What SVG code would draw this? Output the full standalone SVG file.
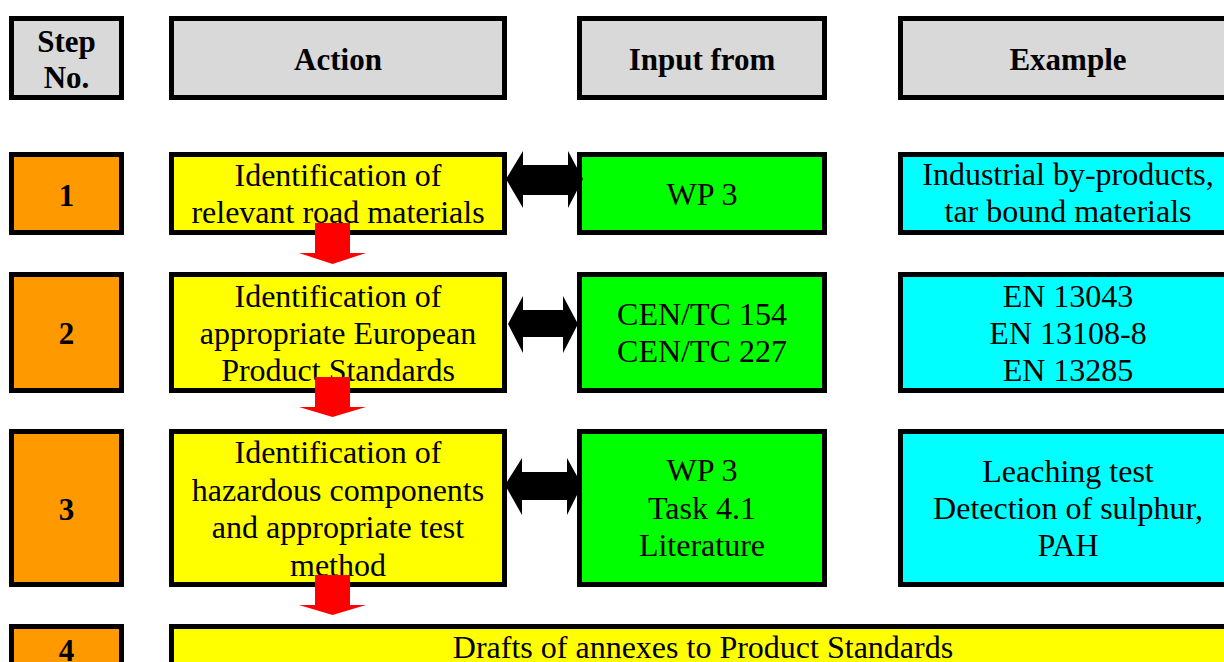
<svg xmlns="http://www.w3.org/2000/svg" width="1224" height="662" viewBox="0 0 1224 662">
<style>
.box{stroke:#000;stroke-width:5;stroke-linejoin:miter}
.hd{fill:#D9D9D9}
.st{fill:#FF9900}
.ac{fill:#FFFF00}
.in{fill:#00FF00}
.ex{fill:#00FFFF}
text{font-family:"Liberation Serif","Times New Roman",serif;font-size:32px;fill:#000;text-anchor:middle}
.b{font-weight:bold;font-size:31px}
.red{fill:#FF0000}
.blk{fill:#000}
</style>
<rect width="1224" height="662" fill="#fff"/>
<g id="header">
<g id="h-step"><rect class="box hd" x="11.5" y="18.5" width="110" height="79"/><text class="b" x="66.5" y="52">Step</text><text class="b" x="66.5" y="88">No.</text></g>
<g id="h-action"><rect class="box hd" x="171.5" y="18.5" width="333" height="79"/><text class="b" x="338" y="70">Action</text></g>
<g id="h-input"><rect class="box hd" x="579.5" y="18.5" width="245" height="79"/><text class="b" x="702" y="70">Input from</text></g>
<g id="h-example"><rect class="box hd" x="900.5" y="18.5" width="340" height="79"/><text class="b" x="1068" y="70">Example</text></g>
</g>
<g id="row1">
<g id="step1"><rect class="box st" x="11.5" y="154.5" width="110" height="78"/><text class="b" x="66.5" y="206">1</text></g>
<g id="action1"><rect class="box ac" x="171.5" y="154.5" width="333" height="78"/><text x="338" y="186">Identification of</text><text x="338" y="223">relevant road materials</text></g>
<g id="input1"><rect class="box in" x="579.5" y="154.5" width="245" height="78"/><text x="702" y="205">WP 3</text></g>
<g id="example1"><rect class="box ex" x="900.5" y="154.5" width="340" height="78"/><text x="1068" y="185">Industrial by-products,</text><text x="1068" y="222">tar bound materials</text></g>
</g>
<g id="row2">
<g id="step2"><rect class="box st" x="11.5" y="274.5" width="110" height="116"/><text class="b" x="66.5" y="344">2</text></g>
<g id="action2"><rect class="box ac" x="171.5" y="274.5" width="333" height="116"/><text x="338" y="307">Identification of</text><text x="338" y="344">appropriate European</text><text x="338" y="381">Product Standards</text></g>
<g id="input2"><rect class="box in" x="579.5" y="274.5" width="245" height="116"/><text x="702" y="325">CEN/TC 154</text><text x="702" y="362">CEN/TC 227</text></g>
<g id="example2"><rect class="box ex" x="900.5" y="274.5" width="340" height="116"/><text x="1068" y="307">EN 13043</text><text x="1068" y="344">EN 13108-8</text><text x="1068" y="381">EN 13285</text></g>
</g>
<g id="row3">
<g id="step3"><rect class="box st" x="11.5" y="431.5" width="110" height="153"/><text class="b" x="66.5" y="520">3</text></g>
<g id="action3"><rect class="box ac" x="171.5" y="431.5" width="333" height="153"/><text x="338" y="463">Identification of</text><text x="338" y="501">hazardous components</text><text x="338" y="538">and appropriate test</text><text x="338" y="576">method</text></g>
<g id="input3"><rect class="box in" x="579.5" y="431.5" width="245" height="153"/><text x="702" y="481">WP 3</text><text x="702" y="519">Task 4.1</text><text x="702" y="556">Literature</text></g>
<g id="example3"><rect class="box ex" x="900.5" y="431.5" width="340" height="153"/><text x="1068" y="482">Leaching test</text><text x="1068" y="519">Detection of sulphur,</text><text x="1068" y="556">PAH</text></g>
</g>
<g id="row4">
<g id="step4"><rect class="box st" x="11.5" y="626.5" width="110" height="60"/><text class="b" x="66.5" y="661">4</text></g>
<g id="action4"><rect class="box ac" x="171.5" y="626.5" width="1070" height="60"/><text x="703" y="658">Drafts of annexes to Product Standards</text></g>
</g>
<g id="connectors">
<polygon class="blk" points="506,179 523,151 523,165 568,165 568,151 583,179 568,208 568,195 523,195 523,208"/>
<polygon class="blk" points="508,324 523,296 523,310 563,310 563,296 578,324 563,353 563,337 523,337 523,353"/>
<polygon class="blk" points="505,485 522,458 522,472 567,472 567,458 582,485 567,515 567,500 522,500 522,515"/>
<polygon class="red" points="315,223 350,223 350,253 366,253 332.5,264 299,253 315,253"/>
<polygon class="red" points="315,377 350,377 350,407 366,407 332.5,417 299,407 315,407"/>
<polygon class="red" points="315,575 350,575 350,605 366,605 332.5,615 299,605 315,605"/>
</g>
</svg>
